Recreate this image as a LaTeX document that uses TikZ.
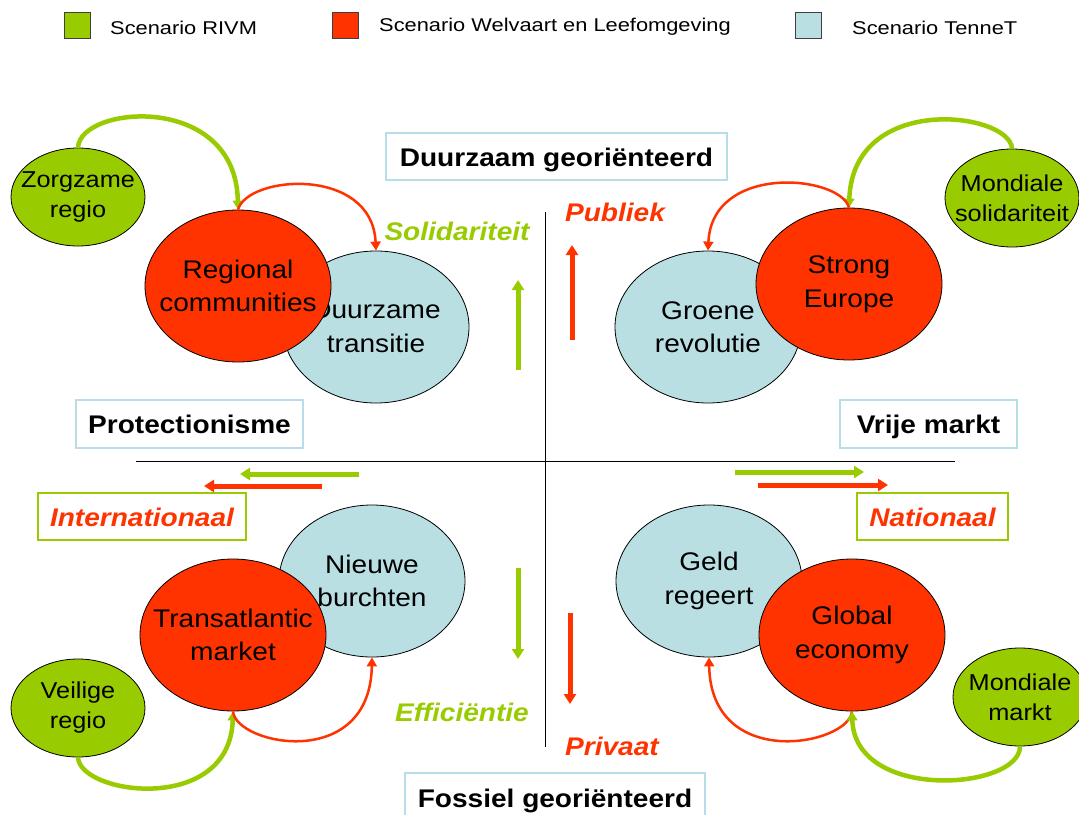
\documentclass[tikz,border=0pt]{standalone}
\usepackage{fontspec}
\setmainfont{Liberation Sans}[FakeStretch=1.1]
\newfontfamily\legendfont{Liberation Sans}[FakeStretch=1.18]
\usetikzlibrary{shapes.geometric,arrows.meta}
\definecolor{rivm}{HTML}{99CC00}
\definecolor{welv}{HTML}{FF3300}
\definecolor{tennet}{HTML}{B9DFE3}
\definecolor{boxblue}{HTML}{B7DDE8}
\begin{document}
\begin{tikzpicture}[x=1pt,y=-1pt,
  big/.style={ellipse, draw=black, line width=0.8pt, minimum width=186pt, minimum height=152pt, inner sep=0pt,
    label={[inner sep=0pt, align=center, font=\fontsize{25.5}{33.5}\selectfont]center:#1}},
  bigred/.style={big={#1}, fill=welv},
  bigblue/.style={big={#1}, fill=tennet},
  small/.style={ellipse, draw=black, line width=0.8pt, fill=rivm, minimum width=134pt, minimum height=98pt, inner sep=0pt,
    label={[inner sep=0pt, align=center, font=\fontsize{23}{30}\selectfont]center:#1}},
  axisbox/.style={draw=boxblue, line width=1.5pt, fill=white, inner sep=0pt, text height=19.5pt, text depth=0pt, font=\fontsize{25.5}{30}\selectfont\bfseries},
  dirbox/.style={draw=rivm, line width=1.5pt, fill=white, inner sep=0pt, text height=20pt, text depth=0pt, text=welv, font=\fontsize{25.5}{30}\selectfont\bfseries\itshape},
  dirlabel/.style={inner sep=0pt, font=\fontsize{25.5}{30}\selectfont\bfseries\itshape},
  greencurve/.style={draw=rivm, line width=4.5pt, -{Triangle[length=9pt,width=10pt]}},
  redcurve/.style={draw=welv, line width=2.5pt, -{Triangle[length=9pt,width=10pt]}},
  greenarrow/.style={draw=rivm, line width=5pt, -{Triangle[length=10pt,width=12pt]}},
  redarrow/.style={draw=welv, line width=5pt, -{Triangle[length=10pt,width=12pt]}},
  legsq/.style={draw=black!75, line width=1pt, minimum width=26pt, minimum height=26pt, inner sep=0pt},
  legtext/.style={anchor=west, inner sep=0pt, font=\legendfont\fontsize{18.5}{22}\selectfont}
]
\useasboundingbox (0,0) rectangle (1079,814);
\fill[white] (0,0) rectangle (1079,814);

% legend
\node[legsq, fill=rivm] (lg1) at (77,25) {};
\node[legtext] (lt1) at (110,28) {Scenario RIVM};
\node[legsq, fill=welv] (lg2) at (345,25) {};
\node[legtext] (lt2) at (379,27) {Scenario Welvaart en Leefomgeving};
\node[legsq, fill=tennet] (lg3) at (808,25) {};
\node[legtext] (lt3) at (852,28) {Scenario TenneT};

% axes
\coordinate (vt) at (545,212);
\coordinate (vb) at (545,747);
\coordinate (hl) at (136,461);
\coordinate (hr) at (955,461);
\draw[black, line width=0.9pt] (vt) -- (vb);
\draw[black, line width=0.9pt] (hl) -- (hr);

% axis label boxes
\node[axisbox, minimum width=341pt, minimum height=47pt] (duur) at (556.5,156.5) {Duurzaam georiënteerd};
\node[axisbox, minimum width=227pt, minimum height=48pt] (prot) at (189.5,424) {Protectionisme};
\node[axisbox, minimum width=177pt, minimum height=48pt] (vrij) at (928.5,424) {Vrije markt};
\node[axisbox, minimum width=300pt, minimum height=50pt] (foss) at (555,798) {Fossiel georiënteerd};
\node[dirbox, minimum width=208pt, minimum height=47pt] (intl) at (142,516.5) {Internationaal};
\node[dirbox, minimum width=151pt, minimum height=47pt] (natl) at (932.5,516.5) {Nationaal};

% direction labels
\node[dirlabel, text=rivm] (sol) at (457,231) {Solidariteit};
\node[dirlabel, text=welv] (pub) at (615,212) {Publiek};
\node[dirlabel, text=rivm] (eff) at (462,712) {Efficiëntie};
\node[dirlabel, text=welv] (priv) at (612,746) {Privaat};

% straight arrows
\coordinate (ga1s) at (518,370); \coordinate (ga1e) at (518,280);
\coordinate (ra1s) at (572,340); \coordinate (ra1e) at (572,245);
\coordinate (ga2s) at (518,568); \coordinate (ga2e) at (518,659);
\coordinate (ra2s) at (570,613); \coordinate (ra2e) at (570,704);
\coordinate (ga3s) at (359,474); \coordinate (ga3e) at (240,474);
\coordinate (ra3s) at (322,486); \coordinate (ra3e) at (204,486);
\coordinate (ga4s) at (735,472); \coordinate (ga4e) at (864,472);
\coordinate (ra4s) at (758,485); \coordinate (ra4e) at (888,485);
\draw[greenarrow] (ga1s) -- (ga1e);
\draw[redarrow] (ra1s) -- (ra1e);
\draw[greenarrow] (ga2s) -- (ga2e);
\draw[redarrow] (ra2s) -- (ra2e);
\draw[greenarrow] (ga3s) -- (ga3e);
\draw[redarrow] (ra3s) -- (ra3e);
\draw[greenarrow] (ga4s) -- (ga4e);
\draw[redarrow] (ra4s) -- (ra4e);

% top-left cluster
\node[bigblue={Duurzame\\transitie}] (dt) at (376,327) {};
\node[bigred={Regional\\communities}] (rc) at (238,286) {};
\node[small={Zorgzame\\regio}] (zr) at (78,197) {};

% top-right cluster
\node[bigblue={Groene\\revolutie}] (gr) at (708,327) {};
\node[bigred={Strong\\Europe}] (se) at (849,284) {};
\node[small={Mondiale\\solidariteit}] (ms) at (1012,198) {};

% bottom-left cluster
\node[bigblue={Nieuwe\\burchten}] (nb) at (372,581) {};
\node[bigred={Transatlantic\\market}] (tm) at (233,635) {};
\node[small={Veilige\\regio}] (vr) at (78,708) {};

% bottom-right cluster
\node[bigblue={Geld\\regeert}] (gg) at (709,581) {};
\node[bigred={Global\\economy}] (ge) at (852,635) {};
\node[small={Mondiale\\markt}] (mm) at (1020,697) {};

% curved connectors
\draw[greencurve] (zr.north) .. controls (80,105) and (236,92) .. (rc.north);
\draw[redcurve] (rc.north) .. controls (248,175) and (372,166) .. (dt.north);
\draw[greencurve] (ms.north) .. controls (1010,112) and (853,92) .. (se.north);
\draw[redcurve] (se.north) .. controls (840,175) and (712,163) .. (gr.north);
\draw[greencurve] (vr.south) .. controls (80,795) and (230,815) .. (tm.south);
\draw[redcurve] (tm.south) .. controls (236,745) and (370,772) .. (nb.south);
\draw[redcurve] (ge.south) .. controls (849,745) and (711,772) .. (gg.south);
\draw[greencurve] (mm.south) .. controls (1020,790) and (855,802) .. (ge.south);
\end{tikzpicture}
\end{document}
